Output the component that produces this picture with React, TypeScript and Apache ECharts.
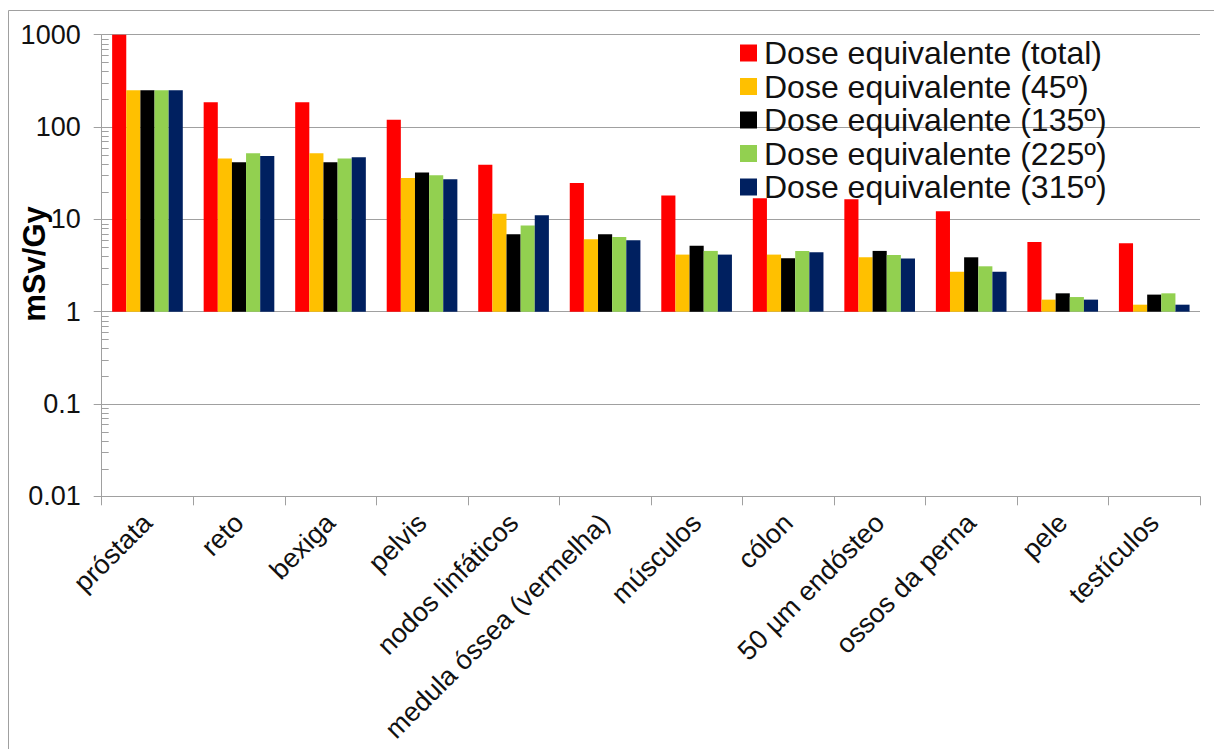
import React, { useEffect, useRef } from "react";
import * as echarts from "echarts";

const categories = [
  "próstata",
  "reto",
  "bexiga",
  "pelvis",
  "nodos linfáticos",
  "medula óssea (vermelha)",
  "músculos",
  "cólon",
  "50 µm endósteo",
  "ossos da perna",
  "pele",
  "testículos",
];

const seriesNames = [
  "Dose equivalente (total)",
  "Dose equivalente (45º)",
  "Dose equivalente (135º)",
  "Dose equivalente (225º)",
  "Dose equivalente (315º)",
];

const doseTotal = [1000, 186, 186, 120, 39, 24.8, 18.1, 16.9, 16.5, 12.2, 5.7, 5.5];
const dose45 = [250, 45.5, 52, 28.1, 11.5, 6.1, 4.15, 4.15, 3.88, 2.71, 1.35, 1.19];
const dose135 = [250, 41.6, 41.6, 32.1, 6.9, 6.9, 5.19, 3.79, 4.55, 3.88, 1.58, 1.53];
const dose225 = [250, 52, 45.5, 30.0, 8.6, 6.45, 4.55, 4.55, 4.11, 3.1, 1.44, 1.58];
const dose315 = [250, 48.6, 47.1, 27.2, 11.1, 5.94, 4.15, 4.4, 3.76, 2.71, 1.35, 1.19];

const yTickLabels = ["0.01", "0.1", "1", "10", "100", "1000"];
const yMin = 0.01;
const yMax = 1000;
const yTitle = "mSv/Gy";

const colors = ["#FF0000", "#FFC000", "#000000", "#92D050", "#002060"];

// minor tick positions (2..9 within each decade) for the log axis
const minorTickValues: number[] = [];
for (let e = -2; e < 3; e++) {
  for (let m = 2; m <= 9; m++) {
    minorTickValues.push(Number((m * Math.pow(10, e)).toPrecision(3)));
  }
}

const FONT = "'Liberation Sans', Arial, Helvetica, sans-serif";
const GRAY = "#a0a0a0";
const GRID_LEFT = 101.7;

export default function App() {
  const ref = useRef<HTMLDivElement>(null);

  useEffect(() => {
    if (!ref.current) return;
    const chart = echarts.init(ref.current, null, { renderer: "svg" });
    const allData = [doseTotal, dose45, dose135, dose225, dose315];

    const baseGraphic: any[] = [
      {
        id: "border",
        type: "rect",
        z: -10,
        silent: true,
        shape: { x: 8.5, y: 10.5, width: 1300, height: 800 },
        style: { fill: "none", stroke: GRAY, lineWidth: 1 },
      },
      {
        id: "ytitle",
        type: "text",
        x: 34,
        y: 264,
        rotation: Math.PI / 2,
        silent: true,
        style: {
          text: yTitle,
          font: `bold 31px ${FONT}`,
          fill: "#000",
          align: "center",
          verticalAlign: "middle",
        },
      },
    ];

    const option: any = {
      animation: false,
      backgroundColor: "#ffffff",
      textStyle: { fontFamily: FONT },
      grid: {
        left: GRID_LEFT,
        right: 14,
        top: 34.7,
        bottom: 252.7,
        containLabel: false,
        outerBoundsMode: "none",
      },
      legend: {
        orient: "vertical",
        left: 740,
        top: 37,
        padding: 0,
        itemWidth: 17,
        itemHeight: 17,
        itemGap: 1.5,
        icon: "rect",
        data: seriesNames,
        textStyle: {
          fontFamily: FONT,
          fontSize: 32,
          color: "#111",
          padding: [0, 0, 0, 2],
        },
      },
      graphic: baseGraphic,
      xAxis: {
        type: "category",
        data: categories,
        boundaryGap: true,
        axisLine: { show: true, lineStyle: { color: GRAY, width: 1 } },
        axisTick: { show: true, length: 9, alignWithLabel: false, lineStyle: { color: GRAY } },
        axisLabel: {
          rotate: 45,
          interval: 0,
          margin: 22,
          fontFamily: FONT,
          fontSize: 27,
          color: "#111",
        },
        splitLine: { show: false },
      },
      yAxis: {
        type: "log",
        logBase: 10,
        min: yMin,
        max: yMax,
        interval: 1,
        axisLine: { show: true, lineStyle: { color: GRAY, width: 1 } },
        axisTick: { show: true, length: 8, lineStyle: { color: GRAY } },
        axisLabel: {
          margin: 21,
          fontFamily: FONT,
          fontSize: 27,
          color: "#111",
          formatter: (v: number) => {
            const i = Math.round(Math.log10(v)) - Math.round(Math.log10(yMin));
            return yTickLabels[i] ?? String(v);
          },
        },
        splitLine: { show: true, lineStyle: { color: GRAY, width: 1 } },
      },
      series: seriesNames.map((name, i) => ({
        name,
        type: "bar",
        data: allData[i],
        barGap: "0%",
        barCategoryGap: "22.8%",
        itemStyle: { color: colors[i] },
        emphasis: { disabled: true },
      })),
    };

    chart.setOption(option);

    // minor ticks on the log axis (inside the plot), positioned through the axis scale
    const minorTicks = minorTickValues.map((v, k) => {
      const py = chart.convertToPixel({ yAxisIndex: 0 }, v) as number;
      const y = Math.round(py) + 0.5;
      return {
        id: "minor" + k,
        type: "line",
        silent: true,
        z: 10,
        shape: { x1: GRID_LEFT, y1: y, x2: GRID_LEFT + 7, y2: y },
        style: { stroke: GRAY, lineWidth: 1 },
      };
    });
    chart.setOption({ graphic: [...baseGraphic, ...minorTicks] });

    return () => chart.dispose();
  }, []);

  return (
    <div
      ref={ref}
      style={{ position: "absolute", left: 0, top: 0, width: 1214, height: 749 }}
    />
  );
}
